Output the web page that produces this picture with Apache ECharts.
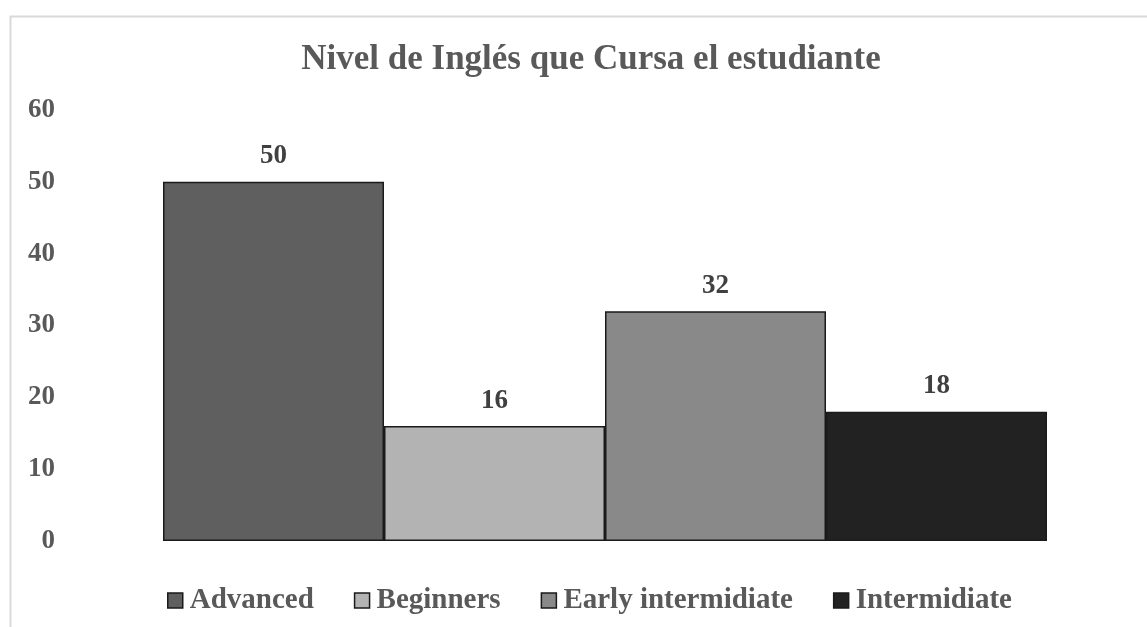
<!DOCTYPE html>
<html>
<head>
<meta charset="utf-8">
<script src="https://cdn.jsdelivr.net/npm/echarts@6/dist/echarts.min.js"></script>
<style>
  html, body { margin: 0; padding: 0; background: #fff; }
  #main { width: 1147px; height: 627px; }
</style>
</head>
<body>
<div id="main"></div>
<script>
// datos del gráfico
var niveles = ['Advanced', 'Beginners', 'Early intermidiate', 'Intermidiate'];
var estudiantes = [50, 16, 32, 18];
var colores = ['#5f5f5f', '#b3b3b3', '#898989', '#222222'];

var fuente = '"Liberation Serif", "DejaVu Serif", serif';

var myChart = echarts.init(document.getElementById('main'));

var series = [];
niveles.forEach(function (nombre, i) {
    series.push({
        name: nombre,
        type: 'bar',
        data: [estudiantes[i]],
        barGap: 0,
        barCategoryGap: 0,
        itemStyle: {
            color: colores[i],
            borderColor: '#1a1a1a',
            borderWidth: 1.5
        },
        label: {
            show: true,
            position: 'top',
            distance: 12,
            fontFamily: fuente,
            fontWeight: 'bold',
            fontSize: 27,
            color: '#404040'
        }
    });
});

var option = {
    animation: false,
    backgroundColor: '#fff',
    graphic: [{
        type: 'rect',
        shape: { x: 10.5, y: 16.5, width: 1300, height: 800 },
        style: { fill: 'none', stroke: '#d9d9d9', lineWidth: 2 }
    }],
    title: {
        text: 'Nivel de Inglés que Cursa el estudiante',
        left: 586,
        top: 37,
        textAlign: 'center',
        textStyle: {
            fontFamily: fuente,
            fontWeight: 'bold',
            fontSize: 35,
            color: '#595959'
        }
    },
    legend: {
        data: niveles,
        left: 162,
        top: 581,
        itemWidth: 15,
        itemHeight: 15,
        itemGap: 40,
        icon: 'rect',
        textStyle: {
            fontFamily: fuente,
            fontWeight: 'bold',
            fontSize: 29,
            color: '#595959',
            padding: [0, 0, 0, 2]
        },
        itemStyle: { borderColor: '#1a1a1a', borderWidth: 1.5 }
    },
    grid: {
        left: 163,
        right: 100,
        top: 110,
        bottom: 86
    },
    xAxis: {
        type: 'category',
        data: [''],
        axisLine: { show: false },
        axisTick: { show: false },
        axisLabel: { show: false }
    },
    yAxis: {
        type: 'value',
        min: 0,
        max: 60,
        interval: 10,
        splitLine: { show: false },
        axisLine: { show: false },
        axisTick: { show: false },
        axisLabel: {
            margin: 108,
            align: 'right',
            fontFamily: fuente,
            fontWeight: 'bold',
            fontSize: 27,
            color: '#595959'
        }
    },
    series: series
};

myChart.setOption(option);
</script>
</body>
</html>
